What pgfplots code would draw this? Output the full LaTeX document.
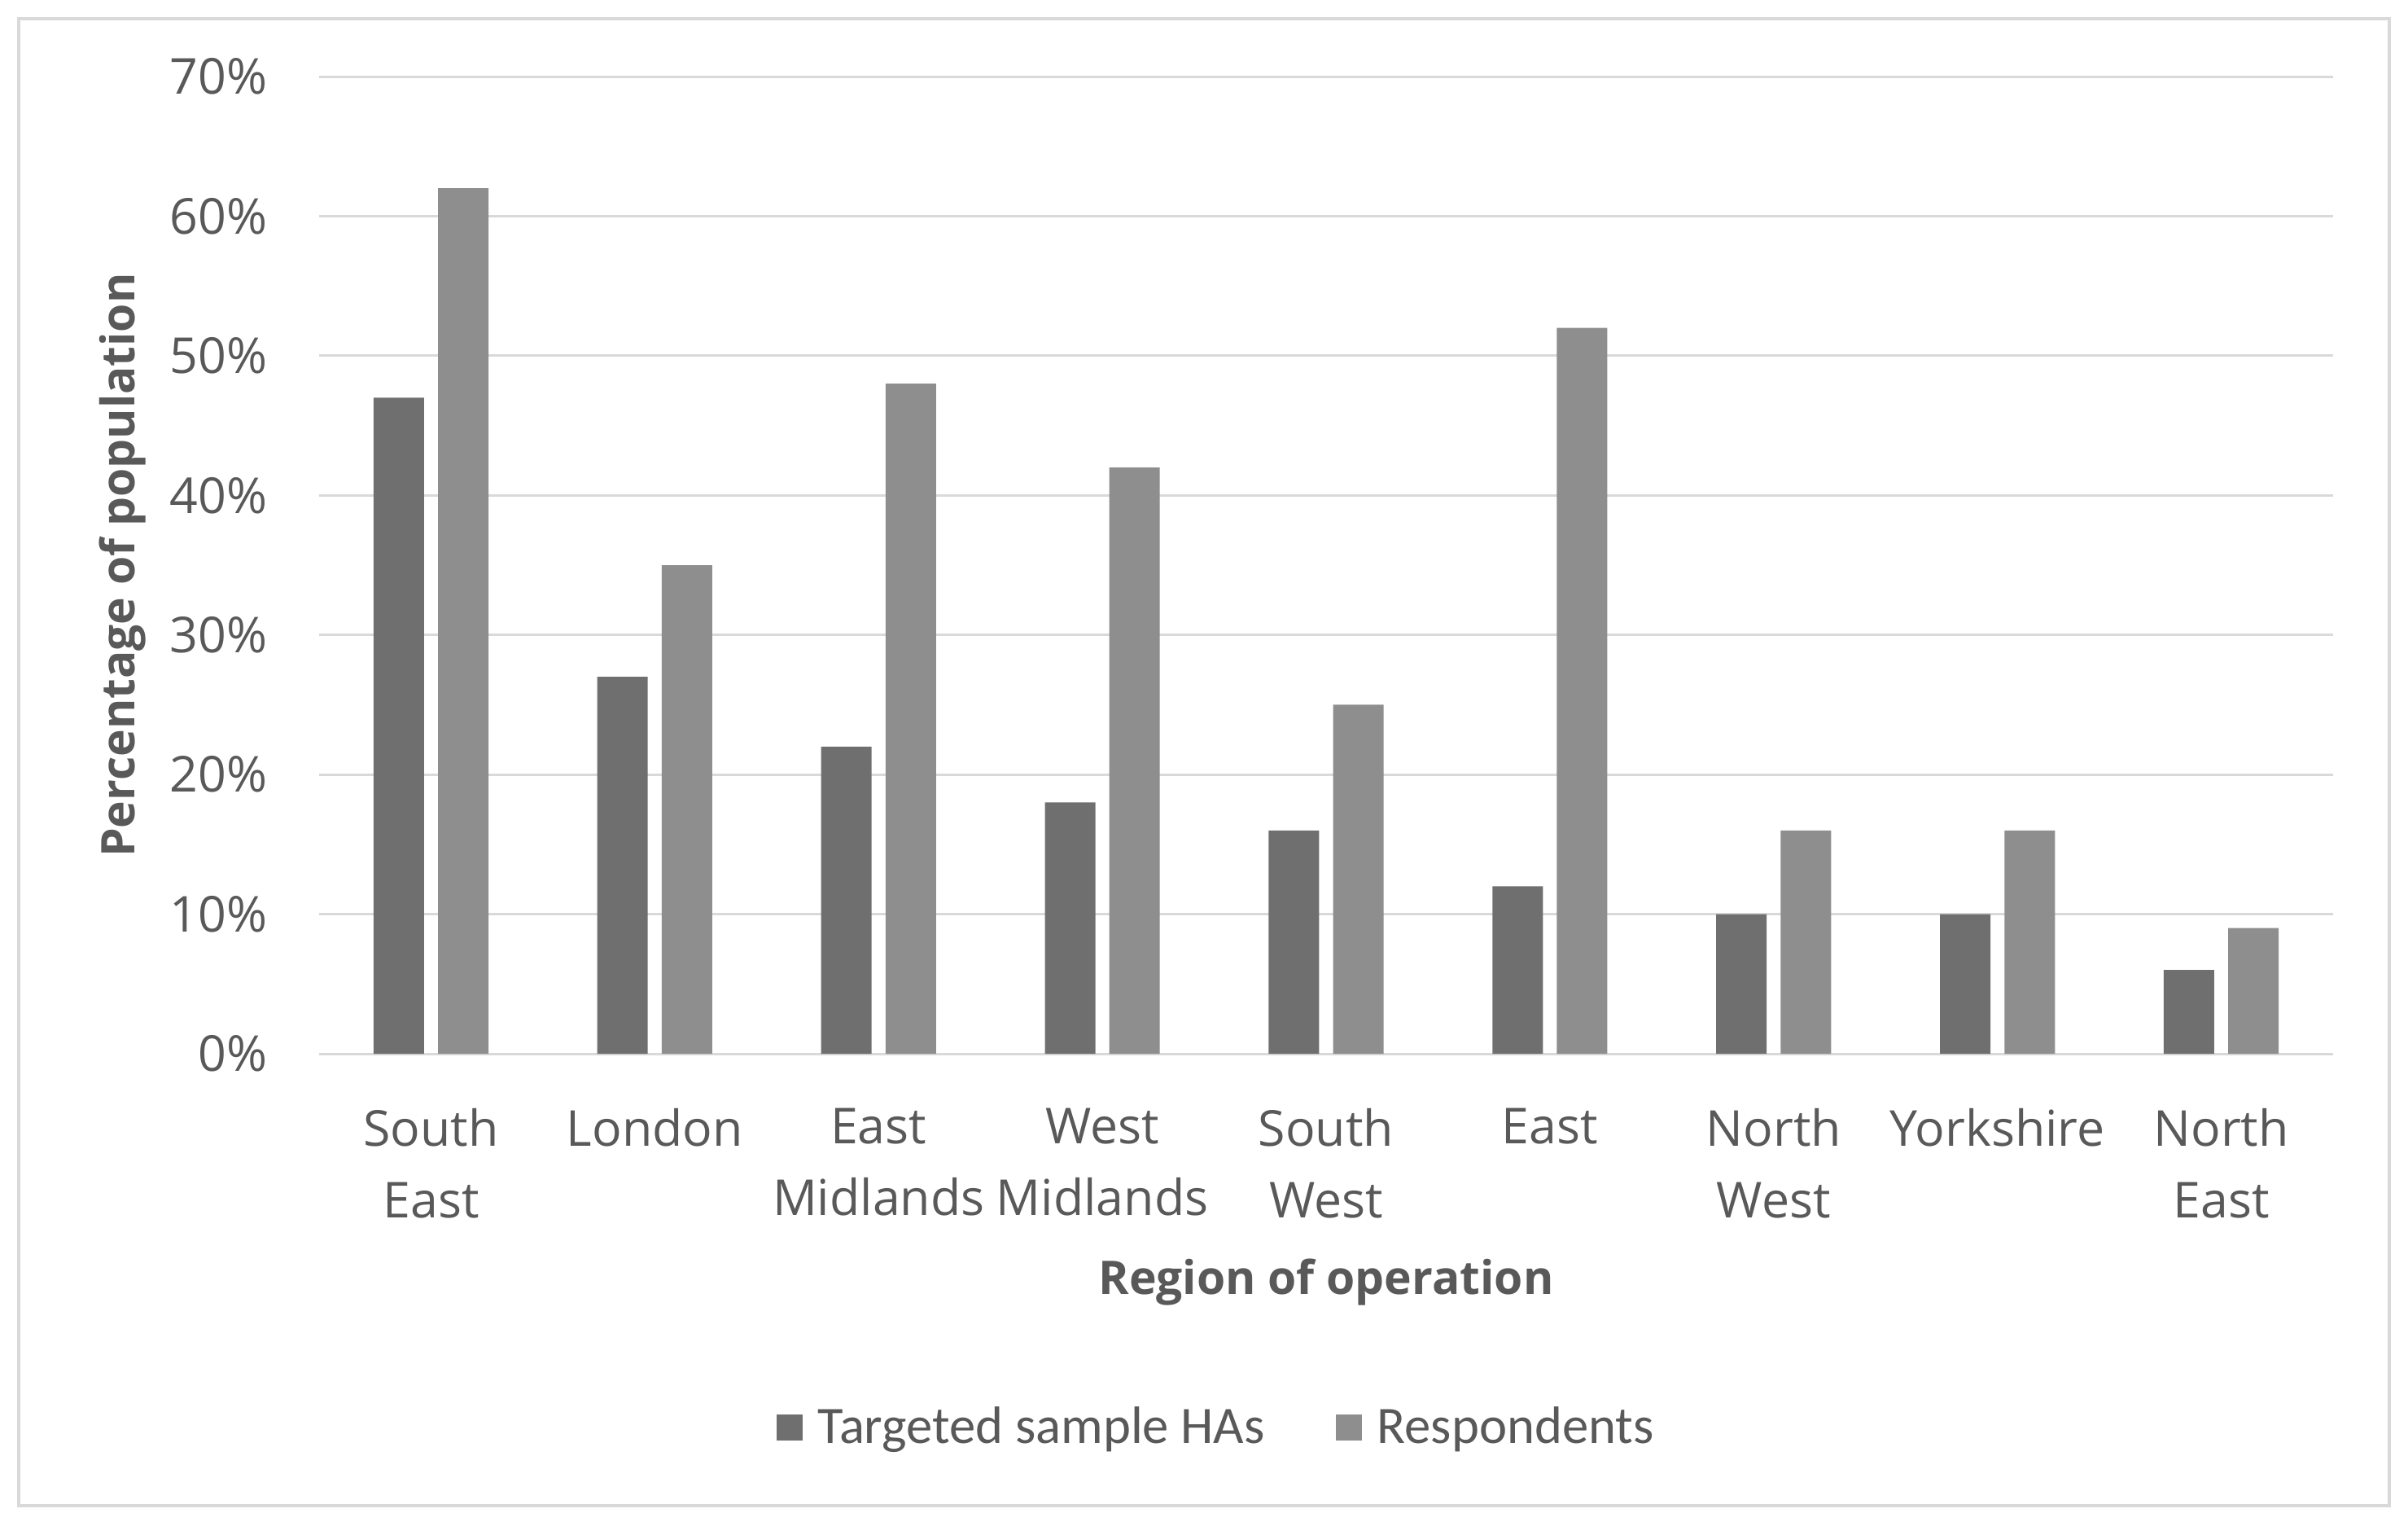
\documentclass[border=0pt]{standalone}
\usepackage{fontspec}
\setmainfont{Open Sans}
\newfontfamily\carlito{Carlito}
\usepackage{pgfplots}
\pgfplotsset{compat=1.18}
\definecolor{txt}{HTML}{595959}
\definecolor{gridc}{HTML}{D9D9D9}
\definecolor{darkbar}{HTML}{6F6F6F}
\definecolor{lightbar}{HTML}{8E8E8E}
\begin{document}
\begin{tikzpicture}
\useasboundingbox (0,0) rectangle (295.8mm,-188.4mm);
\draw[gridc, line width=0.4mm] (2.3mm,-2.3mm) rectangle (293.5mm,-184.9mm);
\begin{axis}[
  at={(39.2mm,-129.4mm)}, anchor=south west,
  scale only axis, width=247.4mm, height=120mm,
  xmin=-0.5, xmax=8.5, ymin=0, ymax=70,
  axis line style={draw=none},
  major tick length=0pt,
  ytick={0,10,...,70},
  yticklabel={\pgfmathprintnumber{\tick}\%},
  ymajorgrids, major grid style={draw=gridc, line width=0.3mm},
  xtick={0,...,8},
  xticklabels={{South\\East},{London},{East\\Midlands},{West\\Midlands},{South\\West},{East},{North\\West},{Yorkshire},{North\\East}},
  /pgf/number format/assume math mode=true,
  tick label style={font=\fontsize{17.3}{25}\selectfont, text=txt},
  xticklabel style={align=center, anchor=north, yshift=-5.5mm},
  yticklabel style={anchor=east, xshift=-5.1mm},
  xlabel={Region of operation},
  ylabel={Percentage of population},
  label style={font=\fontsize{16.2}{20}\selectfont\bfseries, text=txt},
  xlabel style={at={(axis description cs:0.5,-0.234)}, anchor=center},
  ylabel style={at={(axis description cs:-0.0974,0.5)}, anchor=center},
  legend style={at={(axis description cs:0.4463,-0.3825)}, anchor=center, draw=none,
    font=\carlito\fontsize{18.4}{20}\selectfont, text=txt,
    legend columns=2,
    /tikz/every even column/.append style={column sep=8mm},
    /tikz/every odd column/.append style={column sep=1.2mm}},
  legend image code/.code={\fill[#1] (0mm,-1.6mm) rectangle (3.2mm,1.6mm);},
]
\addplot[ybar, bar width=6.2mm, bar shift=-3.96mm, fill=darkbar, draw=none]
  coordinates {(0,47) (1,27) (2,22) (3,18) (4,16) (5,12) (6,10) (7,10) (8,6)};
\addplot[ybar, bar width=6.2mm, bar shift=3.96mm, fill=lightbar, draw=none]
  coordinates {(0,62) (1,35) (2,48) (3,42) (4,25) (5,52) (6,16) (7,16) (8,9)};
\legend{Targeted sample HAs, Respondents}
\end{axis}
\end{tikzpicture}
\end{document}
